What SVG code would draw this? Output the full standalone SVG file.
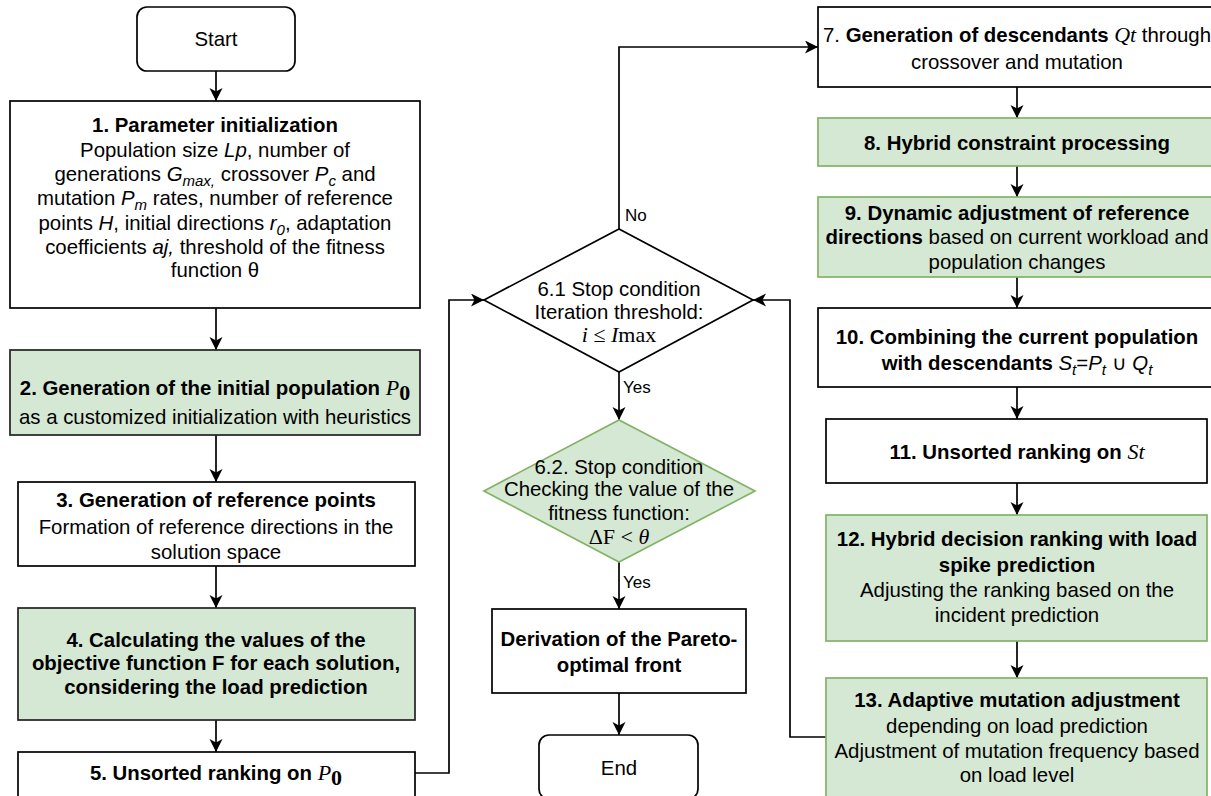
<svg xmlns="http://www.w3.org/2000/svg" width="1211" height="796" viewBox="0 0 1211 796">
<style>
.n{fill:#fff;stroke:#000;stroke-width:1.7}
.g{fill:#d5e8d4;stroke:#82b366;stroke-width:1.7}
.gd{fill:#d5e8d4;stroke:#222;stroke-width:1.7}
.t{font-family:"Liberation Sans",Arial,Helvetica,sans-serif;font-size:20.4px;fill:#000;text-anchor:middle}
.b{font-weight:bold}
.i{font-style:italic}
.m{font-family:"Liberation Serif","Times New Roman",serif;font-style:italic;font-size:22px}
.mu{font-family:"Liberation Serif","Times New Roman",serif;font-size:22px}
.lbl{font-family:"Liberation Sans",Arial,Helvetica,sans-serif;font-size:17px;fill:#000}
.e{fill:none;stroke:#000;stroke-width:1.7}
</style>
<defs>
<marker id="arr" markerUnits="userSpaceOnUse" markerWidth="14" markerHeight="14" refX="13" refY="6.5" orient="auto">
<path d="M0,0 L13,6.5 L0,13 L3.5,6.5 Z" fill="#000"/>
</marker>
</defs>
<rect width="1211" height="796" fill="#fff"/>

<g id="connectors">
<path class="e" d="M216,71 V101" marker-end="url(#arr)"/>
<path class="e" d="M216,308 V350" marker-end="url(#arr)"/>
<path class="e" d="M216,435 V482" marker-end="url(#arr)"/>
<path class="e" d="M216,566 V608" marker-end="url(#arr)"/>
<path class="e" d="M216,720 V752" marker-end="url(#arr)"/>
<path class="e" d="M415,773 H449 V300 H484" marker-end="url(#arr)"/>
<path class="e" d="M619,229 V47 H818" marker-end="url(#arr)"/>
<path class="e" d="M619,372 V420" marker-end="url(#arr)"/>
<path class="e" d="M619,562 V609" marker-end="url(#arr)"/>
<path class="e" d="M619,693 V735" marker-end="url(#arr)"/>
<path class="e" d="M1017,87 V118" marker-end="url(#arr)"/>
<path class="e" d="M1017,166 V197" marker-end="url(#arr)"/>
<path class="e" d="M1017,277 V308" marker-end="url(#arr)"/>
<path class="e" d="M1017,387 V419" marker-end="url(#arr)"/>
<path class="e" d="M1017,483 V515" marker-end="url(#arr)"/>
<path class="e" d="M1017,641 V678" marker-end="url(#arr)"/>
<path class="e" d="M826,737 H790 V300 H753" marker-end="url(#arr)"/>
<text class="lbl" x="625" y="221">No</text>
<text class="lbl" x="623" y="393">Yes</text>
<text class="lbl" x="623" y="588">Yes</text>
</g>

<g id="start">
<rect class="n" x="137" y="7" width="158" height="64" rx="10"/>
<text class="t" x="216" y="46">Start</text>
</g>

<g id="step1">
<rect class="n" x="10" y="101" width="410" height="207"/>
<text class="t" x="215" y="132"><tspan class="b">1. Parameter initialization</tspan></text>
<text class="t" x="215" y="157">Population size <tspan class="i">Lp</tspan>, number of</text>
<text class="t" x="215" y="181">generations <tspan class="i">G</tspan><tspan class="i" font-size="15" dy="5">max,</tspan><tspan dy="-5"> crossover </tspan><tspan class="i">P</tspan><tspan class="i" font-size="15" dy="5">c</tspan><tspan dy="-5"> and</tspan></text>
<text class="t" x="215" y="205">mutation <tspan class="i">P</tspan><tspan class="i" font-size="15" dy="5">m</tspan><tspan dy="-5"> rates, number of reference</tspan></text>
<text class="t" x="215" y="230">points <tspan class="i">H</tspan>, initial directions <tspan class="i">r</tspan><tspan class="i" font-size="15" dy="5">0</tspan><tspan dy="-5">, adaptation</tspan></text>
<text class="t" x="215" y="254">coefficients <tspan class="i">aj,</tspan> threshold of the fitness</text>
<text class="t" x="215" y="277">function θ</text>
</g>

<g id="step2">
<rect class="gd" x="10" y="350" width="410" height="85"/>
<text class="t" x="215" y="395"><tspan class="b">2. Generation of the initial population </tspan><tspan class="m">P</tspan><tspan class="mu" font-size="18" font-weight="bold" dy="5">0</tspan></text>
<text class="t" x="215" y="424">as a customized initialization with heuristics</text>
</g>

<g id="step3">
<rect class="n" x="18" y="482" width="397" height="84"/>
<text class="t b" x="216" y="507">3. Generation of reference points</text>
<text class="t" x="216" y="534">Formation of reference directions in the</text>
<text class="t" x="216" y="559">solution space</text>
</g>

<g id="step4">
<rect class="gd" x="18" y="608" width="397" height="112"/>
<text class="t b" x="216" y="647">4. Calculating the values of the</text>
<text class="t b" x="216" y="670">objective function F for each solution,</text>
<text class="t b" x="216" y="694">considering the load prediction</text>
</g>

<g id="step5">
<rect class="n" x="18" y="752" width="397" height="60"/>
<text class="t" x="216" y="780"><tspan class="b">5. Unsorted ranking on </tspan><tspan class="m">P</tspan><tspan class="mu" font-size="18" font-weight="bold" dy="5">0</tspan></text>
</g>

<g id="step6_1">
<polygon class="n" points="484,300 619,229 753,300 619,372"/>
<text class="t" x="619" y="296">6.1 Stop condition</text>
<text class="t" x="619" y="319">Iteration threshold:</text>
<text class="t" x="619" y="342"><tspan class="m">i</tspan><tspan class="mu"> ≤ </tspan><tspan class="m">I</tspan><tspan class="mu" font-size="17">max</tspan></text>
</g>

<g id="step6_2">
<polygon class="g" points="484,491 619,420 755,491 619,562"/>
<text class="t" x="619" y="474">6.2. Stop condition</text>
<text class="t" x="619" y="496">Checking the value of the</text>
<text class="t" x="619" y="520">fitness function:</text>
<text class="t" x="619" y="544"><tspan class="mu">ΔF &lt; </tspan><tspan class="m">θ</tspan></text>
</g>

<g id="derivation">
<rect class="n" x="492" y="609" width="254" height="84"/>
<text class="t b" x="619" y="646">Derivation of the Pareto-</text>
<text class="t b" x="619" y="672">optimal front</text>
</g>

<g id="end">
<rect class="n" x="539" y="735" width="159" height="64" rx="10"/>
<text class="t" x="619" y="775">End</text>
</g>

<g id="step7">
<rect class="n" x="818" y="7" width="398" height="80"/>
<text class="t" x="1017" y="42">7. <tspan class="b">Generation of descendants</tspan> <tspan class="m">Qt</tspan> through</text>
<text class="t" x="1017" y="69">crossover and mutation</text>
</g>

<g id="step8">
<rect class="g" x="818" y="118" width="398" height="48"/>
<text class="t b" x="1017" y="150">8. Hybrid constraint processing</text>
</g>

<g id="step9">
<rect class="g" x="818" y="197" width="398" height="80"/>
<text class="t b" x="1017" y="220">9. Dynamic adjustment of reference</text>
<text class="t" x="1017" y="244"><tspan class="b">directions</tspan> based on current workload and</text>
<text class="t" x="1017" y="269">population changes</text>
</g>

<g id="step10">
<rect class="n" x="818" y="308" width="398" height="79"/>
<text class="t b" x="1017" y="344">10. Combining the current population</text>
<text class="t" x="1017" y="370"><tspan class="b">with descendants </tspan><tspan class="i">S</tspan><tspan class="i" font-size="15" dy="5">t</tspan><tspan dy="-5">=</tspan><tspan class="i">P</tspan><tspan class="i" font-size="15" dy="5">t</tspan><tspan dy="-5"> ∪ </tspan><tspan class="i">Q</tspan><tspan class="i" font-size="15" dy="5">t</tspan></text>
</g>

<g id="step11">
<rect class="n" x="826" y="419" width="381" height="64"/>
<text class="t" x="1017" y="459"><tspan class="b">11. Unsorted ranking on </tspan><tspan class="m">St</tspan></text>
</g>

<g id="step12">
<rect class="g" x="826" y="515" width="381" height="126"/>
<text class="t b" x="1017" y="546">12. Hybrid decision ranking with load</text>
<text class="t b" x="1017" y="572">spike prediction</text>
<text class="t" x="1017" y="597">Adjusting the ranking based on the</text>
<text class="t" x="1017" y="622">incident prediction</text>
</g>

<g id="step13">
<rect class="g" x="826" y="678" width="381" height="130"/>
<text class="t b" x="1017" y="707">13. Adaptive mutation adjustment</text>
<text class="t" x="1017" y="733">depending on load prediction</text>
<text class="t" x="1017" y="758">Adjustment of mutation frequency based</text>
<text class="t" x="1017" y="782">on load level</text>
</g>
</svg>
